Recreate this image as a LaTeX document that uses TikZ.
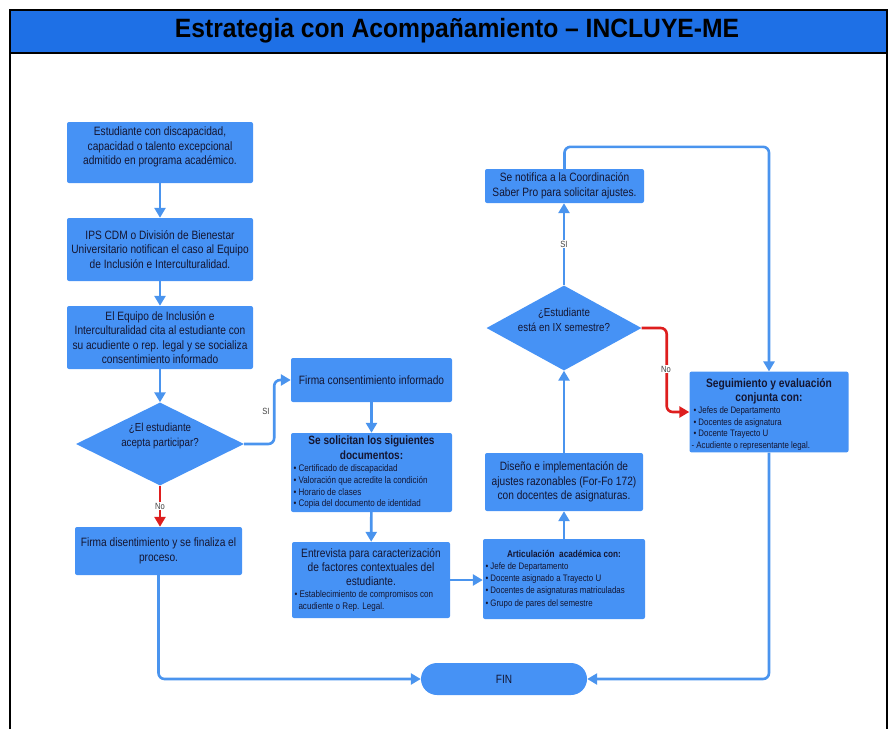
\documentclass[tikz,border=0pt]{standalone}
\usepackage{fontspec}
\setmainfont{Liberation Sans}[FakeStretch=0.84]
\newfontfamily\titlefont{Liberation Sans}[FakeStretch=0.93]
\usetikzlibrary{arrows.meta,shapes.geometric,positioning}
\definecolor{hdr}{RGB}{30,112,230}
\definecolor{boxfill}{RGB}{70,146,245}
\definecolor{ln}{RGB}{74,148,238}
\definecolor{rd}{RGB}{222,30,30}
\definecolor{txt}{RGB}{20,22,50}
\newcommand{\fixsp}{\spaceskip=0pt\xspaceskip=0pt\relax}
\begin{document}
\begin{tikzpicture}[x=1pt,y=-1pt,
  box/.style={fill=boxfill, rounded corners=2pt, inner sep=2pt, text=txt, align=center,
    font=\fontsize{12.1}{14.5}\selectfont},
  dia/.style={diamond, fill=boxfill, inner sep=0pt},
  flow/.style={draw=ln, line width=2.6pt, -{Triangle[width=11pt,length=10pt]}},
  redflow/.style={draw=rd, line width=2.6pt, -{Triangle[width=11pt,length=10pt]}},
  lbl/.style={fill=white, inner sep=1pt, text=black!75, font=\fontsize{9}{10}\selectfont}
]
\useasboundingbox (0,0) rectangle (893,729);
% frame and header
\fill[hdr] (10,10) rectangle (887,53);
\draw[black, line width=2pt] (10,729) -- (10,10) -- (887,10) -- (887,729);
\draw[black, line width=1.5pt] (10,53) -- (887,53);
\node[font=\titlefont\bfseries\fontsize{26.5}{30}\selectfont, text=black] (title) at (457,31) {Estrategia con Acompañamiento – INCLUYE-ME};

% left column
\node[box, minimum width=186pt, minimum height=61pt, text depth=13pt] (A) at (160,152.5)
  {Estudiante con discapacidad,\\capacidad o talento excepcional\\admitido en programa académico.};
\node[box, minimum width=186pt, minimum height=63pt] (B) at (160,249.5)
  {IPS CDM o División de Bienestar\\Universitario notifican el caso al Equipo\\de Inclusión e Interculturalidad.};
\node[box, minimum width=186pt, minimum height=63pt] (C) at (160,337.5)
  {El Equipo de Inclusión e\\Interculturalidad cita al estudiante con\\su acudiente o rep. legal y se socializa\\consentimiento informado};
\node[dia, minimum width=168pt, minimum height=83pt] (d1) at (160,444) {};
\node[text=txt, align=center, font=\fontsize{11.6}{14.5}\selectfont] (d1t) at (160,436)
  {¿El estudiante\\acepta participar?};
\node[box, minimum width=167pt, minimum height=48pt] (E) at (158.5,551)
  {Firma disentimiento y se finaliza el\\proceso.};

% middle column
\node[box, minimum width=161pt, minimum height=44pt] (F) at (371.5,380)
  {Firma consentimiento informado};
\node[box, minimum width=161pt, minimum height=79pt, text width=156pt, align=left] (G) at (371.5,472.5)
  {\fixsp\centering{\bfseries\fontsize{12}{15}\selectfont Se solicitan los siguientes\\documentos:\par}
   \raggedright\fontsize{9.6}{11.8}\selectfont
   • Certificado de discapacidad\\
   • Valoración que acredite la condición\\
   • Horario de clases\\
   • Copia del documento de identidad\par};
\node[box, minimum width=158pt, minimum height=76pt, text width=153pt, align=left] (H) at (371,580)
  {\fixsp\centering{\fontsize{12.1}{14}\selectfont Entrevista para caracterización\\de factores contextuales del\\estudiante.\par}
   \raggedright\fontsize{9.6}{12}\selectfont
   • Establecimiento de compromisos con\\
   \hspace*{4pt}acudiente o Rep. Legal.\par};
\node[box, minimum width=162pt, minimum height=80pt, text width=157pt, align=left] (I) at (564,579)
  {\fixsp\centering{\bfseries\fontsize{9.8}{13}\selectfont Articulación\ \ académica con:\par}
   \raggedright\fontsize{9.4}{12.2}\selectfont
   • Jefe de Departamento\\
   • Docente asignado a Trayecto U\\
   • Docentes de asignaturas matriculadas\\
   • Grupo de pares del semestre\par};

% right-middle column
\node[box, minimum width=158pt, minimum height=58pt] (J) at (564,482)
  {Diseño e implementación de\\ajustes razonables (For-Fo 172)\\con docentes de asignaturas.};
\node[dia, minimum width=155pt, minimum height=85pt] (d2) at (564,328) {};
\node[text=txt, align=center, font=\fontsize{11.6}{14.5}\selectfont] (d2t) at (564,320)
  {¿Estudiante\\está en IX semestre?};
\node[box, minimum width=159pt, minimum height=34pt] (K) at (564.5,186)
  {Se notifica a la Coordinación\\Saber Pro para solicitar ajustes.};

% right column
\node[box, minimum width=158pt, minimum height=80pt, text width=155pt, align=left] (L) at (769,412)
  {\fixsp\centering{\bfseries\fontsize{12.2}{14}\selectfont\rule{0pt}{14pt}Seguimiento y evaluación\\conjunta con:\par}
   \raggedright\fontsize{9.4}{11.7}\selectfont
   \hspace*{2pt}• Jefes de Departamento\\
   \hspace*{2pt}• Docentes de asignatura\\
   \hspace*{2pt}• Docente Trayecto U\\
   - Acudiente o representante legal.\par};

% end
\node[fill=boxfill, rounded corners=16pt, minimum width=166pt, minimum height=32pt, text=txt,
  font=\fontsize{12}{14}\selectfont] (fin) at (504,679) {FIN};

% connectors
\draw[flow] (A) -- (B);
\draw[flow] (B) -- (C);
\draw[flow] (C) -- (d1);
\draw[redflow] (d1.south) -- (d1.south |- E.north) node[midway, lbl] {No};
\draw[flow, rounded corners=6pt] (d1.east) -- ++(30,0) |- (F.west);
\node[lbl, fill=none] (si1) at (266,411) {SI};
\draw[flow] (F) -- (G);
\draw[flow] (G) -- (H);
\draw[flow] (H.east) -- (H.east -| I.west);
\draw[flow] (I.north) -- (J.south);
\draw[flow] (J.north) -- (d2.south);
\draw[flow] (d2.north) -- (d2.north |- K.south) node[midway, lbl] {SI};
\draw[flow, rounded corners=6pt] (K.north) -- ++(0,-22) -| (L.north);
\draw[redflow, rounded corners=6pt] (d2.east) -- ++(25,0) |- (L.west) ;
\node[lbl] (no2) at (666,369) {No};
\draw[flow, rounded corners=6pt] (E.south) |- (fin.west);
\draw[flow, rounded corners=6pt] (L.south) |- (fin.east);
\end{tikzpicture}
\end{document}
